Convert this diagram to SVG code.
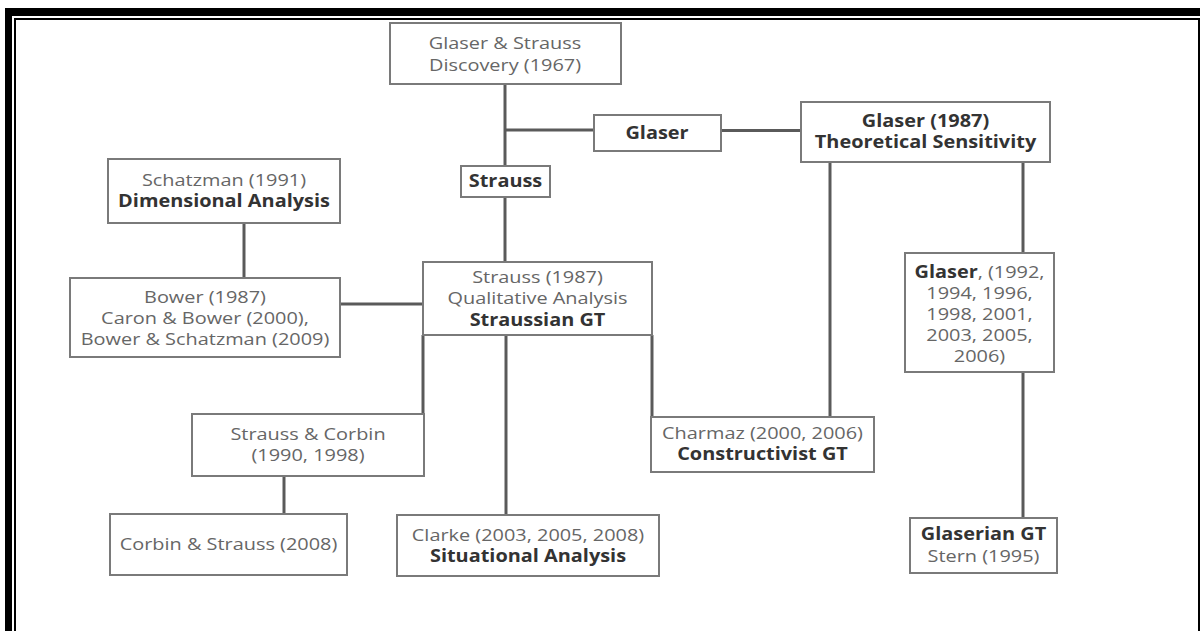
<svg xmlns="http://www.w3.org/2000/svg" width="1200" height="631" viewBox="0 0 1200 631">
  <style>
    .box { fill: #ffffff; stroke: #7a7a7a; stroke-width: 2; }
    .link { stroke: #5a5a5a; stroke-width: 3; fill: none; }
    text { font-family: "Open Sans", "Liberation Sans", sans-serif; font-size: 17px; fill: #666666; text-anchor: middle; }
    .b { font-weight: bold; fill: #333333; }
  </style>

  <!-- page frame -->
  <g id="frame">
    <rect x="0" y="0" width="1200" height="631" fill="#ffffff"/>
    <rect x="5" y="8" width="1195" height="8" fill="#000000"/>
    <rect x="5" y="8" width="7" height="623" fill="#000000"/>
    <rect x="14" y="18" width="1186" height="2" fill="#000000"/>
    <rect x="14" y="18" width="2" height="613" fill="#000000"/>
    <rect x="1198" y="18" width="2" height="613" fill="#000000"/>
  </g>

  <!-- connectors -->
  <g id="connectors">
    <line class="link" x1="505" y1="84" x2="505" y2="166"/>
    <line class="link" x1="505" y1="130" x2="594" y2="130"/>
    <line class="link" x1="721" y1="130.5" x2="801" y2="130.5"/>
    <line class="link" x1="505" y1="197" x2="505" y2="262"/>
    <line class="link" x1="244" y1="223" x2="244" y2="278"/>
    <line class="link" x1="340" y1="304" x2="423" y2="304"/>
    <line class="link" x1="423" y1="335" x2="423" y2="414"/>
    <line class="link" x1="284" y1="476" x2="284" y2="514"/>
    <line class="link" x1="506" y1="335" x2="506" y2="515"/>
    <line class="link" x1="652" y1="335" x2="652" y2="417"/>
    <line class="link" x1="830" y1="162" x2="830" y2="417"/>
    <line class="link" x1="1023" y1="162" x2="1023" y2="253"/>
    <line class="link" x1="1023" y1="372" x2="1023" y2="518"/>
  </g>

  <!-- each label block is set at x=0 and widened about its centre -->
  <g id="glaser-strauss-1967">
    <rect class="box" x="390" y="23" width="231" height="61"/>
    <g transform="translate(505 0) scale(1.17 1)">
      <text x="0" y="49">Glaser &amp; Strauss</text>
      <text x="0" y="71">Discovery (1967)</text>
    </g>
  </g>

  <g id="glaser">
    <rect class="box" x="594" y="115" width="127" height="36"/>
    <g transform="translate(657 0) scale(1.17 1)">
      <text class="b" x="0" y="139">Glaser</text>
    </g>
  </g>

  <g id="strauss">
    <rect class="box" x="461" y="166" width="89" height="31"/>
    <g transform="translate(505.5 0) scale(1.17 1)">
      <text class="b" x="0" y="187">Strauss</text>
    </g>
  </g>

  <g id="glaser-1987">
    <rect class="box" x="801" y="102" width="249" height="60"/>
    <g transform="translate(925.5 0) scale(1.17 1)">
      <text class="b" x="0" y="127.5">Glaser (1987)</text>
      <text class="b" x="0" y="148.5">Theoretical Sensitivity</text>
    </g>
  </g>

  <g id="schatzman-1991">
    <rect class="box" x="108" y="159" width="232" height="64"/>
    <g transform="translate(224 0) scale(1.17 1)">
      <text x="0" y="186">Schatzman (1991)</text>
      <text class="b" x="0" y="207">Dimensional Analysis</text>
    </g>
  </g>

  <g id="bower">
    <rect class="box" x="70" y="278" width="270" height="79"/>
    <g transform="translate(205 0) scale(1.17 1)">
      <text x="0" y="303">Bower (1987)</text>
      <text x="0" y="324">Caron &amp; Bower (2000),</text>
      <text x="0" y="345">Bower &amp; Schatzman (2009)</text>
    </g>
  </g>

  <g id="strauss-1987">
    <rect class="box" x="423" y="262" width="229" height="73"/>
    <g transform="translate(537.5 0) scale(1.17 1)">
      <text x="0" y="283">Strauss (1987)</text>
      <text x="0" y="304">Qualitative Analysis</text>
      <text class="b" x="0" y="326">Straussian GT</text>
    </g>
  </g>

  <g id="glaser-later">
    <rect class="box" x="905" y="253" width="149" height="119"/>
    <g transform="translate(979.5 0) scale(1.17 1)">
      <text x="0" y="278"><tspan class="b">Glaser</tspan>, (1992,</text>
      <text x="0" y="299">1994, 1996,</text>
      <text x="0" y="320">1998, 2001,</text>
      <text x="0" y="341">2003, 2005,</text>
      <text x="0" y="362">2006)</text>
    </g>
  </g>

  <g id="strauss-corbin">
    <rect class="box" x="192" y="414" width="232" height="62"/>
    <g transform="translate(308 0) scale(1.17 1)">
      <text x="0" y="440.5">Strauss &amp; Corbin</text>
      <text x="0" y="461.5">(1990, 1998)</text>
    </g>
  </g>

  <g id="charmaz">
    <rect class="box" x="651" y="417" width="223" height="55"/>
    <g transform="translate(762.5 0) scale(1.17 1)">
      <text x="0" y="439">Charmaz (2000, 2006)</text>
      <text class="b" x="0" y="460">Constructivist GT</text>
    </g>
  </g>

  <g id="corbin-strauss">
    <rect class="box" x="110" y="514" width="237" height="61"/>
    <g transform="translate(228.5 0) scale(1.17 1)">
      <text x="0" y="550">Corbin &amp; Strauss (2008)</text>
    </g>
  </g>

  <g id="clarke">
    <rect class="box" x="397" y="515" width="262" height="61"/>
    <g transform="translate(528 0) scale(1.17 1)">
      <text x="0" y="541">Clarke (2003, 2005, 2008)</text>
      <text class="b" x="0" y="562">Situational Analysis</text>
    </g>
  </g>

  <g id="glaserian">
    <rect class="box" x="910" y="518" width="147" height="55"/>
    <g transform="translate(983.5 0) scale(1.17 1)">
      <text class="b" x="0" y="540">Glaserian GT</text>
      <text x="0" y="562">Stern (1995)</text>
    </g>
  </g>
</svg>
